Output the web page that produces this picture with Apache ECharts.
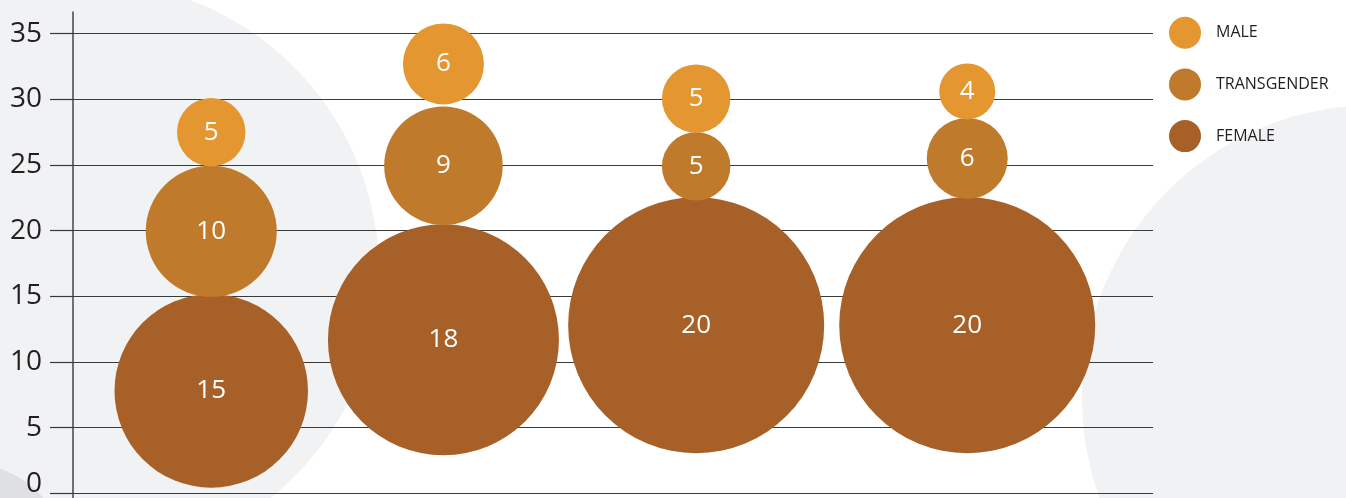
<!DOCTYPE html>
<html><head><meta charset="utf-8">
<script src="https://cdn.jsdelivr.net/npm/echarts@6/dist/echarts.min.js"></script>
<style>html,body{margin:0;padding:0;background:#fff}#c{width:1346px;height:498px}</style>
</head><body><div id="c"></div>
<script>
// Data
const seriesNames = ['MALE', 'TRANSGENDER', 'FEMALE'];
const groupX = [12.8, 34.3, 57.7, 82.8];          // horizontal placement of the 4 bubble stacks (hidden 0-100 scale)
const maleValues = [5, 6, 5, 4];
const maleY = [27.5, 32.7, 30.05, 30.6];
const transValues = [10, 9, 5, 6];
const transY = [19.95, 24.95, 24.9, 25.5];
const femaleValues = [15, 18, 20, 20];
const femaleY = [7.8, 11.7, 12.8, 12.8];
const yTickLabels = ['0', '5', '10', '15', '20', '25', '30', '35'];

const colors = { MALE: '#E49731', TRANSGENDER: '#C07A2B', FEMALE: '#A66028' };
const font = '"Open Sans", "Noto Sans", sans-serif';

function pts(ys, vals) { return groupX.map((x, i) => [x, ys[i], vals[i]]); }

function bubble(name, ys, vals, z) {
  return {
    name: name, type: 'scatter', xAxisIndex: 0, yAxisIndex: 0,
    data: pts(ys, vals), clip: false, silent: true, z: z,
    symbol: 'circle',
    symbolSize: d => 6 + 12.5 * d[2],
    itemStyle: { color: colors[name], opacity: 1 },
    label: { show: true, position: 'inside', formatter: p => String(p.value[2]),
      color: '#fff', fontSize: 26, fontFamily: font, fontWeight: 400 },
    emphasis: { disabled: true }
  };
}

const chart = echarts.init(document.getElementById('c'), null, { renderer: 'canvas' });
chart.setOption({
  animation: false,
  backgroundColor: '#ffffff',
  graphic: [
    { type: 'circle', z: -100, silent: true, shape: { cx: 89, cy: 272, r: 290 }, style: { fill: '#f1f2f4' } },
    { type: 'circle', z: -100, silent: true, shape: { cx: 1375, cy: 398, r: 293 }, style: { fill: '#f1f2f4' } },
    { type: 'circle', z: -99, silent: true, shape: { cx: -30, cy: 560, r: 96 }, style: { fill: '#dfe0e2' } }
  ],
  legend: {
    orient: 'vertical', left: 1164, top: 11.7,
    itemWidth: 32, itemHeight: 32, itemGap: 19.7,
    icon: 'circle', selectedMode: false,
    data: seriesNames,
    textStyle: { fontSize: 16, color: '#231f20', fontFamily: font, padding: [0, 0, 0, 10] }
  },
  grid: [
    { left: 73, right: 193, top: 33.7, bottom: 4.6, outerBoundsMode: 'none', containLabel: false },
    { left: 73, right: 193, top: 12, bottom: 0, outerBoundsMode: 'none', containLabel: false }
  ],
  xAxis: [
    { type: 'value', gridIndex: 0, min: 0, max: 100, show: false },
    { type: 'value', gridIndex: 1, min: 0, max: 100, show: false }
  ],
  yAxis: [
    { type: 'value', gridIndex: 0, min: 0, max: 35, interval: 5,
      axisLine: { show: false },
      axisTick: { show: true, length: 23, lineStyle: { color: '#3a3a3a', width: 1.2 } },
      axisLabel: { margin: 31, fontSize: 28, color: '#231f20', fontFamily: font,
        formatter: v => { const t = yTickLabels[Math.round(v / 5)]; return v === 0 ? '{zero|' + t + '}' : t; },
        rich: { zero: { fontSize: 28, color: '#231f20', fontFamily: font, padding: [0, 0, 19, 0] } } },
      splitLine: { show: true, lineStyle: { color: '#3a3a3a', width: 1.2 } } },
    { type: 'value', gridIndex: 1, min: 0, max: 1,
      axisLine: { show: true, lineStyle: { color: '#444', width: 1.5 } },
      axisTick: { show: false }, axisLabel: { show: false }, splitLine: { show: false } }
  ],
  series: [
    bubble('FEMALE', femaleY, femaleValues, 2),
    bubble('TRANSGENDER', transY, transValues, 3),
    bubble('MALE', maleY, maleValues, 4)
  ]
});
</script></body></html>
